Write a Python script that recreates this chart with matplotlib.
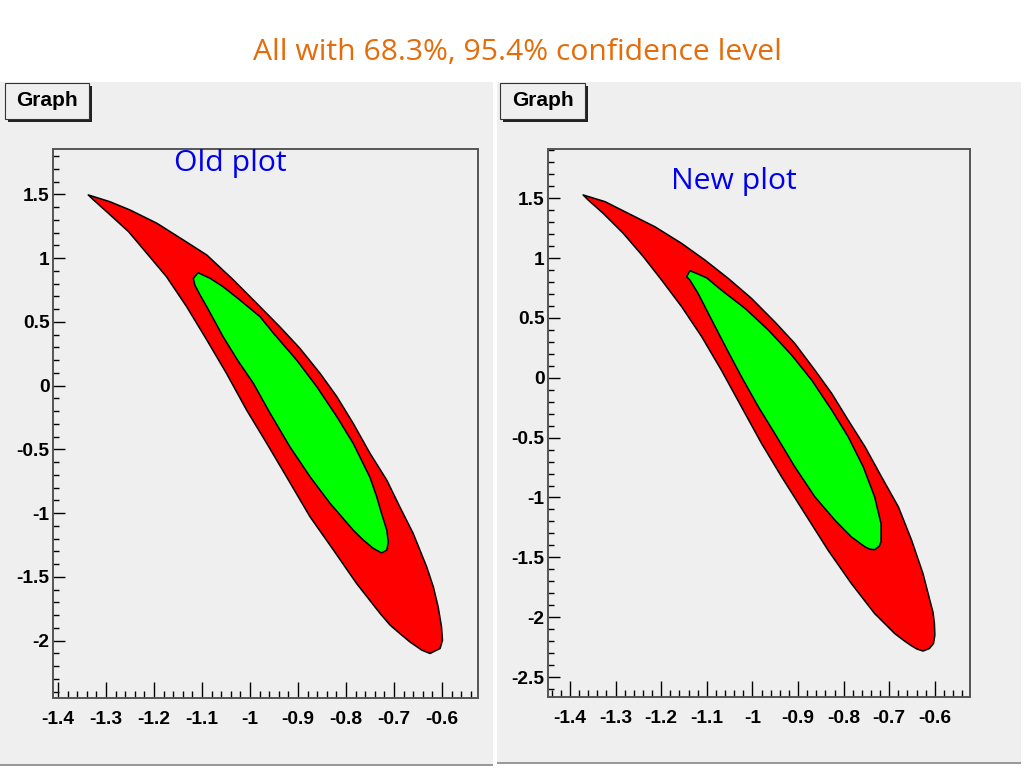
import numpy as np
import matplotlib
matplotlib.use("Agg")
import matplotlib.pyplot as plt
from matplotlib.patches import Rectangle
from matplotlib.ticker import MultipleLocator, FormatStrFormatter

plt.rcParams['axes.unicode_minus'] = False

# ---- data (contour vertices, data units) ----
old_red_x = [-1.337, -1.292, -1.250, -1.194, -1.139, -1.090, -1.038, -0.986, -0.938, -0.896,
             -0.854, -0.819, -0.785, -0.750, -0.715, -0.688, -0.660, -0.632, -0.618, -0.608,
             -0.601, -0.599, -0.604, -0.625, -0.642, -0.667, -0.688, -0.708, -0.729, -0.778,
             -0.826, -0.875, -0.924, -0.965, -1.007, -1.049, -1.090, -1.132, -1.174, -1.212,
             -1.253, -1.295, -1.326]
old_red_y = [1.495, 1.442, 1.377, 1.273, 1.142, 1.024, 0.841, 0.645, 0.462, 0.292,
             0.096, -0.087, -0.296, -0.531, -0.741, -0.950, -1.159, -1.420, -1.578, -1.735,
             -1.891, -1.996, -2.061, -2.100, -2.074, -2.009, -1.943, -1.878, -1.786, -1.551,
             -1.290, -1.028, -0.714, -0.453, -0.192, 0.096, 0.358, 0.619, 0.854, 1.024,
             1.207, 1.351, 1.456]

old_green_x = [-1.108, -1.083, -1.056, -1.021, -0.979, -0.951, -0.903, -0.861, -0.819, -0.785,
               -0.750, -0.736, -0.726, -0.715, -0.712, -0.715, -0.726, -0.743, -0.764, -0.785,
               -0.806, -0.833, -0.875, -0.917, -0.958, -0.993, -1.026, -1.056, -1.073, -1.090,
               -1.104, -1.115, -1.118]
old_green_y = [0.885, 0.841, 0.775, 0.671, 0.540, 0.410, 0.201, -0.008, -0.244, -0.453,
               -0.720, -0.872, -1.002, -1.133, -1.225, -1.290, -1.311, -1.276, -1.211, -1.133,
               -1.041, -0.924, -0.714, -0.479, -0.218, 0.018, 0.200, 0.383, 0.501, 0.618,
               0.710, 0.789, 0.841]

new_red_x = [-1.371, -1.323, -1.272, -1.214, -1.155, -1.104, -1.053, -1.002, -0.951, -0.907,
             -0.863, -0.826, -0.790, -0.753, -0.717, -0.680, -0.651, -0.626, -0.611, -0.604,
             -0.601, -0.600, -0.603, -0.612, -0.626, -0.640, -0.651, -0.668, -0.688, -0.732,
             -0.783, -0.834, -0.885, -0.936, -0.980, -1.024, -1.068, -1.111, -1.155, -1.199,
             -1.239, -1.283, -1.327, -1.360]
new_red_y = [1.528, 1.472, 1.374, 1.263, 1.123, 0.984, 0.831, 0.664, 0.468, 0.287,
             0.064, -0.131, -0.354, -0.577, -0.827, -1.078, -1.357, -1.636, -1.859, -1.960,
             -2.054, -2.150, -2.220, -2.262, -2.283, -2.265, -2.240, -2.195, -2.137, -1.970,
             -1.719, -1.441, -1.134, -0.827, -0.548, -0.242, 0.064, 0.343, 0.594, 0.817,
             1.012, 1.207, 1.374, 1.486]

new_green_x = [-1.137, -1.119, -1.100, -1.068, -1.016, -0.965, -0.914, -0.870, -0.826, -0.790,
               -0.757, -0.732, -0.718, -0.718, -0.722, -0.732, -0.742, -0.753, -0.783, -0.819,
               -0.863, -0.907, -0.951, -0.987, -1.024, -1.057, -1.089, -1.119, -1.137, -1.144]
new_green_y = [0.895, 0.867, 0.835, 0.733, 0.580, 0.399, 0.190, -0.019, -0.270, -0.493,
               -0.744, -0.995, -1.218, -1.371, -1.407, -1.436, -1.432, -1.413, -1.329, -1.190,
               -0.995, -0.744, -0.465, -0.242, 0.009, 0.246, 0.482, 0.705, 0.817, 0.845]

title = "All with 68.3%, 95.4% confidence level"
labels = ["Old plot", "New plot"]

W, H = 1024, 768
fig = plt.figure(figsize=(W / 100, H / 100), dpi=100)
fig.patch.set_facecolor('white')


def fx(px):
    return px / W


def fy(py):
    return 1 - py / H


def canvas(x0, x1, y0, y1):
    fig.patches.append(Rectangle((fx(x0), fy(y1)), fx(x1) - fx(x0), fy(y0) - fy(y1),
                                 transform=fig.transFigure, facecolor='#efefef',
                                 edgecolor='none', zorder=-2))
    fig.patches.append(Rectangle((fx(x0), fy(y1 + 2)), fx(x1) - fx(x0), 2 / H,
                                 transform=fig.transFigure, facecolor='#999999',
                                 edgecolor='none', zorder=-2))


def graph_box(x0, x1, y0, y1):
    fig.patches.append(Rectangle((fx(x0 + 3), fy(y1 + 3)), fx(x1) - fx(x0), fy(y0) - fy(y1),
                                 transform=fig.transFigure, facecolor='#222222',
                                 edgecolor='none', zorder=1))
    fig.patches.append(Rectangle((fx(x0), fy(y1)), fx(x1) - fx(x0), fy(y0) - fy(y1),
                                 transform=fig.transFigure, facecolor='#efefef',
                                 edgecolor='#333333', linewidth=0.8, zorder=2))
    fig.text(fx((x0 + x1) / 2), fy((y0 + y1) / 2), "Graph", ha='center', va='center',
             family='Liberation Sans', weight='bold', fontsize=15, zorder=3)


canvas(0, 493, 82, 764)
canvas(497, 1021, 82, 762)
graph_box(5, 89, 83, 119)
graph_box(500, 585, 83, 119)

fig.text(fx(517), fy(52), title, ha='center', va='center', color='#e46c0a',
         family='Open Sans', fontsize=21.7)


def panel(rect, xlim, ylim, rx, ry, gx, gy, label, lpos):
    ax = fig.add_axes(rect)
    ax.set_zorder(5)
    ax.set_facecolor('#efefef')
    ax.fill(rx, ry, facecolor='#ff0000', edgecolor='black', linewidth=1.1,
            joinstyle='round', zorder=2)
    ax.fill(gx, gy, facecolor='#00ff00', edgecolor='black', linewidth=1.1,
            joinstyle='round', zorder=3)
    ax.set_xlim(*xlim)
    ax.set_ylim(*ylim)
    ax.xaxis.set_major_locator(MultipleLocator(0.1))
    ax.xaxis.set_minor_locator(MultipleLocator(0.02))
    ax.yaxis.set_major_locator(MultipleLocator(0.5))
    ax.yaxis.set_minor_locator(MultipleLocator(0.1))
    ax.xaxis.set_major_formatter(FormatStrFormatter('%g'))
    ax.yaxis.set_major_formatter(FormatStrFormatter('%g'))
    ax.tick_params(axis='x', which='major', direction='in', length=11.5, width=1,
                   pad=9.5, labelsize=13.8)
    ax.tick_params(axis='x', which='minor', direction='in', length=5, width=1)
    ax.tick_params(axis='y', which='major', direction='in', length=8.6, width=1,
                   pad=2.5, labelsize=13.8)
    ax.tick_params(axis='y', which='minor', direction='in', length=4.3, width=1)
    for t in ax.get_xticklabels() + ax.get_yticklabels():
        t.set_family('Liberation Sans')
        t.set_fontweight('bold')
    for s in ax.spines.values():
        s.set_color('#555555')
        s.set_linewidth(1.4)
    fig.text(fx(lpos[0]), fy(lpos[1]), label, ha='center', va='center', color='#0000ee',
             family='Open Sans', fontsize=21.7, zorder=10)
    return ax


panel([fx(53), fy(698), fx(478) - fx(53), fy(149) - fy(698)],
      (-1.4104, -0.525), (-2.449, 1.855),
      old_red_x, old_red_y, old_green_x, old_green_y, labels[0], (230, 163))
panel([fx(548), fy(697), fx(970) - fx(548), fy(149) - fy(697)],
      (-1.448, -0.523), (-2.667, 1.912),
      new_red_x, new_red_y, new_green_x, new_green_y, labels[1], (734, 181))

fig.savefig('out.png', dpi=100)
